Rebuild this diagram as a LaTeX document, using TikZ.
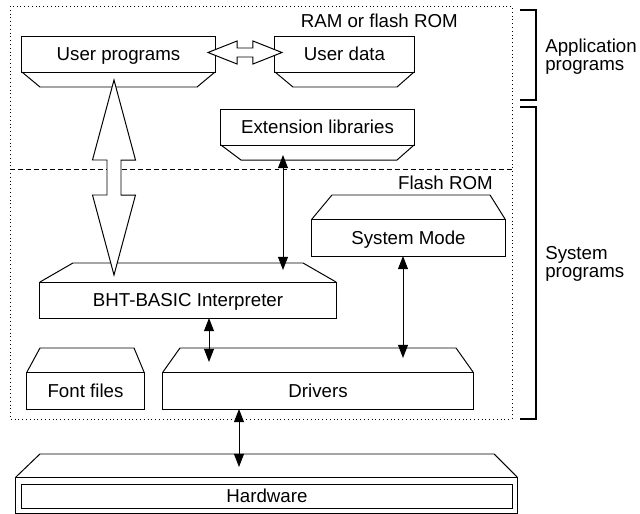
\documentclass[tikz,border=0pt]{standalone}
\usepackage{fontspec}
\setmainfont{Liberation Sans}
\usetikzlibrary{calc,arrows.meta}

\newcommand\topcap[4]{\draw[capline] (#1.north west) -- ++(#2,-#4) -- ($(#1.north east)+(-#3,-#4)$) -- (#1.north east);}
\newcommand\botcap[4]{\draw[capline] (#1.south west) -- ++(#2,#4) -- ($(#1.south east)+(-#3,#4)$) -- (#1.south east);}

\begin{document}
\begin{tikzpicture}[x=0.025cm,y=-0.025cm,
  font=\fontsize{13.3}{12.6}\selectfont,
  box/.style={draw,line width=0.7pt,inner sep=0pt,outer sep=0pt,minimum height=0.9cm,text height=9.5pt,text depth=0pt},
  capline/.style={line width=0.7pt,line join=miter},
  tag/.style={inner sep=0pt},
  link/.style={line width=0.7pt,{Triangle[length=3.3mm,width=2.5mm]}-{Triangle[length=3.3mm,width=2.5mm]}},
  hollow/.style={draw,line width=0.7pt,fill=white,line join=miter},
  region/.style={line width=0.7pt,dotted},
  layer/.style={line width=0.7pt,dash pattern=on 3.5pt off 2.2pt},
  brace/.style={line width=0.9pt}]
\useasboundingbox (0,0) rectangle (640,514);

\draw[region] (10,6) rectangle (512,419);
\draw[layer] (10,169) -- (512,169);
\node[tag,anchor=east] (ram) at (458,21) {RAM or flash ROM};
\node[tag,anchor=east] (flash) at (493,183) {Flash ROM};

\node[box,minimum width=4.825cm] (prog) at (118.5,54) {User programs};
\node[box,minimum width=3.475cm] (data) at (344.5,54) {User data};
\node[box,minimum width=4.825cm] (ext) at (317.5,127) {Extension libraries};
\node[box,minimum width=4.825cm,minimum height=0.925cm] (sys) at (408.5,237.5) {System Mode};
\node[box,minimum width=7.4cm] (interp) at (188,300) {BHT-BASIC Interpreter};
\node[box,minimum width=2.925cm,minimum height=0.925cm] (font) at (85.5,390.5) {Font files};
\node[box,minimum width=7.75cm,minimum height=0.925cm] (drv) at (318,390.5) {Drivers};
\node[box,minimum width=12.525cm] (hwbox) at (266.5,495) {};
\node[box,minimum width=12.25cm,minimum height=0.6cm] (hw) at (267,496) {Hardware};

\botcap{prog}{18}{18}{15}
\botcap{data}{18}{17}{15}
\botcap{ext}{20}{17}{15}
\topcap{sys}{20}{15}{24}
\topcap{interp}{33}{33}{19}
\topcap{font}{13}{10}{24}
\topcap{drv}{17}{17}{24}
\topcap{hwbox}{24}{23}{23}

\draw[hollow] ($(prog.east)+(-7,-1.5)$) -- ++(29,-11.5) -- ++(0,7) -- ($(data.west)+(-22,-6)$) -- ++(0,-7) -- ++(29,11.5) -- ++(-29,11.5) -- ++(0,-7) -- ($(prog.east)+(22,3)$) -- ++(0,7) -- cycle;
\draw[hollow] ($(prog.south)+(-4.5,8)$) -- ++(21.5,80) -- ++(-14.5,0) -- ++(0,35) -- ++(14.5,0) -- ($(interp.north)+(-74,-7)$) -- ++(-21.5,-80) -- ++(14.5,0) -- ++(0,-35) -- ++(-14.5,0) -- cycle;

\draw[link] ($(ext.south)+(-34.5,10)$) -- ($(interp.north)+(95,-12)$);
\draw[link] ($(sys.south)+(-5.5,0)$) -- ($(drv.north)+(85,-14)$);
\draw[link] ($(interp.south)+(21,0)$) -- ($(drv.north)+(-109,-10)$);
\draw[link] ($(drv.south)+(-79,0)$) -- ($(hwbox.north)+(-27.5,-10)$);

\draw[brace] (520,10) -| (536,100) -- (520,100);
\draw[brace] (520,107) -| (536,419) -- (520,419);
\node[tag,anchor=west,align=left] (app) at (545,57) {Application\\programs};
\node[tag,anchor=west,align=left] (sysprog) at (545,264) {System\\programs};
\end{tikzpicture}
\end{document}
